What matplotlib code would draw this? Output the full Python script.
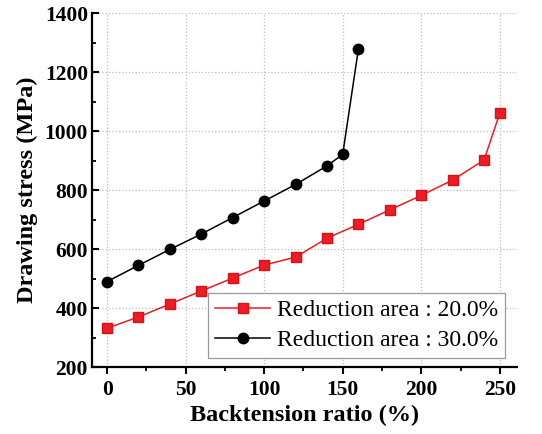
import matplotlib.pyplot as plt
from matplotlib.ticker import MultipleLocator

# backtension ratio (%) and drawing stress (MPa) for two reduction areas
ratio_20 = [0, 20, 40, 60, 80, 100, 120, 140, 160, 180, 200, 220, 240, 250]
stress_20 = [332, 370, 414, 458, 502, 546, 573, 637, 684, 733, 782, 834, 902, 1061]

ratio_30 = [0, 20, 40, 60, 80, 100, 120, 140, 150, 160]
stress_30 = [490, 545, 599, 651, 707, 763, 819, 882, 921, 1278]

labels = ["Reduction area : 20.0%", "Reduction area : 30.0%"]

plt.rcParams['font.family'] = ['Liberation Serif', 'DejaVu Serif']

fig = plt.figure(figsize=(5.42, 4.34), dpi=100)
ax = fig.add_axes([0.170, 0.154, 0.784, 0.816])

ax.plot(ratio_20, stress_20, color='#ee1c24', lw=1.1, marker='s', ms=7,
        markeredgecolor='#d81018', label=labels[0], zorder=3)
ax.plot(ratio_30, stress_30, color='black', lw=1.1, marker='o', ms=7.5,
        label=labels[1], zorder=3)

ax.set_xlim(-9.5, 261)
ax.set_ylim(200, 1400)
ax.xaxis.set_major_locator(MultipleLocator(50))
ax.xaxis.set_minor_locator(MultipleLocator(25))
ax.yaxis.set_major_locator(MultipleLocator(200))
ax.yaxis.set_minor_locator(MultipleLocator(100))

ax.grid(True, which='major', ls=':', color='#bdbdbd', lw=0.9)
ax.set_axisbelow(True)

for side in ['top', 'right']:
    ax.spines[side].set_visible(False)
for side in ['left', 'bottom']:
    ax.spines[side].set_linewidth(1.6)

ax.tick_params(axis='x', which='major', direction='out', length=5, width=1.5, pad=4)
ax.tick_params(axis='x', which='minor', direction='out', length=3, width=1.3)
ax.tick_params(axis='y', which='major', direction='in', length=5, width=1.5, pad=3)
ax.tick_params(axis='y', which='minor', direction='in', length=3, width=1.3)
for lab in ax.get_xticklabels() + ax.get_yticklabels():
    lab.set_fontweight('bold')
    lab.set_fontsize(15.5)

ax.set_xlabel("Backtension ratio (%)", fontsize=17.5, fontweight='bold', labelpad=4)
ax.set_ylabel("Drawing stress (MPa)", fontsize=17.5, fontweight='bold', labelpad=5)

leg = ax.legend(loc='lower right', fontsize=17, frameon=True, fancybox=False,
                edgecolor='#9a9a9a', framealpha=1, borderpad=0.3,
                handlelength=2.3, handletextpad=0.3, labelspacing=0.35,
                borderaxespad=0, bbox_to_anchor=(505 / 542, 76 / 434),
                bbox_transform=fig.transFigure)
leg.get_frame().set_linewidth(0.9)

fig.savefig("out.png", dpi=100)
